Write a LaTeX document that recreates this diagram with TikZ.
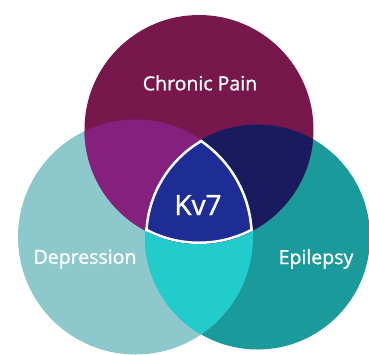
\documentclass[tikz,border=0pt]{standalone}
\usepackage{fontspec}
\setmainfont{Open Sans}
\newfontfamily\lblfont{Open Sans}[FakeBold=1.2]
\definecolor{painC}{HTML}{78174B}
\definecolor{depC}{HTML}{8CC8CC}
\definecolor{epiC}{HTML}{1A9A9A}
\definecolor{purpC}{HTML}{86207E}
\definecolor{navyC}{HTML}{1A1A5E}
\definecolor{cyanC}{HTML}{22CCCC}
\definecolor{kvC}{HTML}{1E2C96}
\begin{document}
\begin{tikzpicture}[x=1pt,y=-1pt,
  lbl/.style={text=white,font=\lblfont\fontsize{19.5}{22}\selectfont,inner sep=0pt}]
\useasboundingbox (0,0) rectangle (369,354);
\coordinate (T) at (199,129.5);
\coordinate (L) at (135.5,237);
\coordinate (R) at (257.5,237);
\def\rT{114.5}
\def\rL{117.5}
\def\rR{112.5}
% base circles
\fill[depC] (L) circle[radius=\rL];
\fill[epiC] (R) circle[radius=\rR];
\fill[painC] (T) circle[radius=\rT];
% pairwise overlaps
\begin{scope}
  \clip (L) circle[radius=\rL];
  \fill[cyanC] (R) circle[radius=\rR];
\end{scope}
\begin{scope}
  \clip (T) circle[radius=\rT];
  \fill[purpC] (L) circle[radius=\rL];
  \fill[navyC] (R) circle[radius=\rR];
\end{scope}
% triple overlap
\begin{scope}
  \clip (T) circle[radius=\rT];
  \clip (L) circle[radius=\rL];
  \clip (R) circle[radius=\rR];
  \fill[kvC] (0,0) rectangle (369,354);
  \draw[white,line width=5pt] (T) circle[radius=\rT];
  \draw[white,line width=5pt] (L) circle[radius=\rL];
  \draw[white,line width=5pt] (R) circle[radius=\rR];
\end{scope}
\node[lbl] (pain) at (200,83) {Chronic Pain};
\node[lbl] (dep) at (85,259) {Depression};
\node[lbl] (epi) at (316,259) {Epilepsy};
\node[lbl,font=\lblfont\fontsize{28}{32}\selectfont] (kv) at (198,205) {Kv7};
\end{tikzpicture}
\end{document}
